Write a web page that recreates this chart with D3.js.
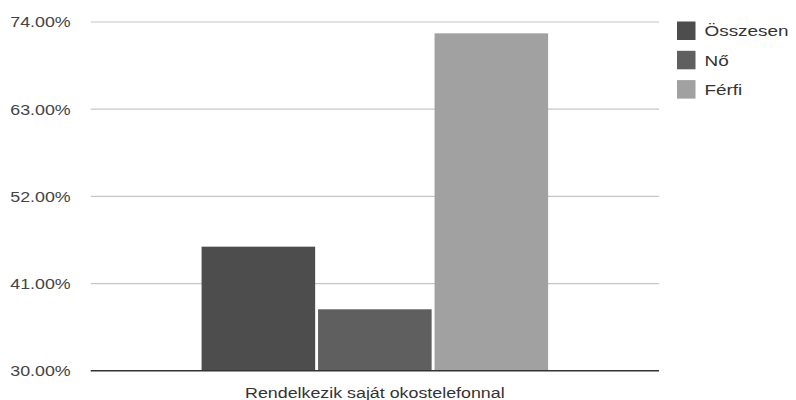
<!DOCTYPE html>
<html><head><meta charset="utf-8">
<script src="https://cdn.jsdelivr.net/npm/d3@7"></script>
<style>body{margin:0;background:#fff}svg{display:block}</style>
</head><body>
<script>
const categories = ["Rendelkezik saját okostelefonnal"];
const seriesNames = ["Összesen", "Nő", "Férfi"];
const seriesValues = [45.65, 37.75, 72.57];
const tickValues = [30, 41, 52, 63, 74];
const colors = ["#4d4d4d", "#5f5f5f", "#a1a1a1"];

(function () {
const W = 796, H = 400;
const mLeft = 90.7, mRight = 659, mTop = 22, mBottom = 370.7;
const FONT = "Liberation Sans, Arial, sans-serif";
const FS = 15.5, STRETCH = 1.15;

const svg = d3.select("body").append("svg").attr("width", W).attr("height", H);

const y = d3.scaleLinear().domain([30, 74]).range([mBottom, mTop]);
const x0 = d3.scaleBand().domain(categories).range([mLeft, mRight]).paddingInner(0).paddingOuter(0.32);
const x1 = d3.scaleBand().domain(seriesNames).range([0, x0.bandwidth()]).paddingInner(0.025).paddingOuter(0);

function stretch(k) {
  return function (sel) {
    sel.each(function () {
      const w = this.getComputedTextLength();
      this.setAttribute("textLength", w * k);
      this.setAttribute("lengthAdjust", "spacingAndGlyphs");
    });
  };
}

// gridlines
svg.append("g").selectAll("line").data(tickValues.filter(d => d !== 30)).join("line")
  .attr("x1", mLeft).attr("x2", mRight)
  .attr("y1", d => y(d)).attr("y2", d => y(d))
  .attr("stroke", "#c6c6c6").attr("stroke-width", 1.2);

// y axis labels
const yAxis = d3.axisLeft(y).tickValues(tickValues).tickSize(0).tickPadding(20)
  .tickFormat(d => d3.format(".2f")(d) + "%");
const ga = svg.append("g").attr("transform", `translate(${mLeft},0)`).call(yAxis);
ga.select(".domain").remove();
ga.selectAll("text").attr("font-family", FONT).attr("font-size", FS).attr("fill", "#444").call(stretch(STRETCH));

// bars
const g = svg.append("g");
categories.forEach(c => {
  g.selectAll("rect.b").data(seriesValues).join("rect").attr("class", "b")
    .attr("x", (d, i) => x0(c) + x1(seriesNames[i]))
    .attr("width", x1.bandwidth())
    .attr("y", d => y(d))
    .attr("height", d => y(30) - y(d))
    .attr("fill", (d, i) => colors[i]);
});

// baseline
svg.append("line").attr("x1", mLeft).attr("x2", mRight).attr("y1", y(30)).attr("y2", y(30))
  .attr("stroke", "#333").attr("stroke-width", 1.6);

// x label
svg.append("g").selectAll("text").data(categories).join("text")
  .attr("x", d => x0(d) + x0.bandwidth() / 2).attr("y", 397.5)
  .attr("text-anchor", "middle").attr("font-family", FONT).attr("font-size", FS)
  .attr("fill", "#333").text(d => d).call(stretch(STRETCH));

// legend
const lg = svg.append("g").attr("transform", "translate(677,21.5)");
const items = lg.selectAll("g").data(seriesNames).join("g")
  .attr("transform", (d, i) => `translate(0,${i * 29.3})`);
items.append("rect").attr("width", 18.5).attr("height", 18.5).attr("fill", (d, i) => colors[i]);
items.append("text").attr("x", 27.5).attr("y", 14.8).attr("font-family", FONT).attr("font-size", FS)
  .attr("fill", "#333").text(d => d).call(stretch(1.22));
})();
</script>
</body></html>
